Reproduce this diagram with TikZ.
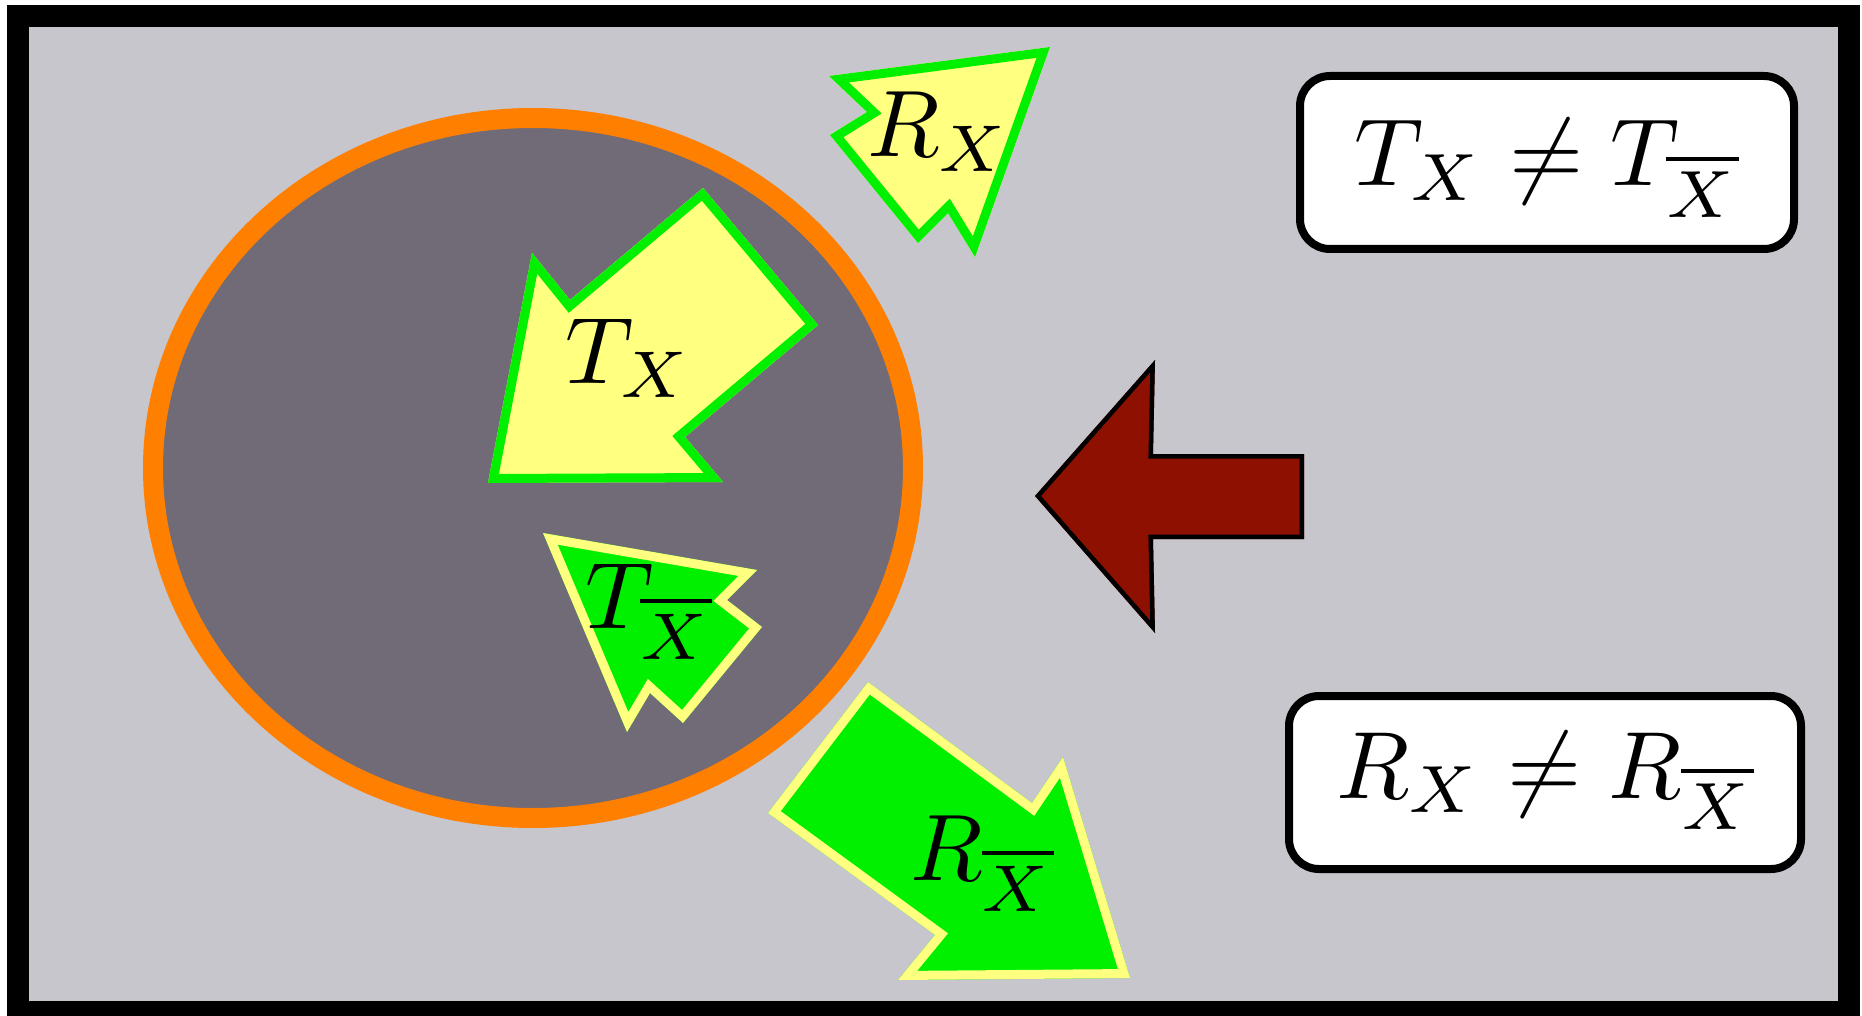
\documentclass[tikz,border=0pt]{standalone}
\usepackage{graphicx}
\usetikzlibrary{shapes.geometric}
\definecolor{bgnoise}{RGB}{200,198,205}
\definecolor{innernoise}{RGB}{112,107,119}
\definecolor{ringorange}{RGB}{255,127,0}
\definecolor{paleyellow}{RGB}{255,255,128}
\definecolor{brightgreen}{RGB}{0,240,0}
\definecolor{darkred}{RGB}{142,16,0}
\newcommand\bigtxt[1]{\scalebox{9.45}{#1}}
\newcommand\boxtxt[1]{\scalebox{9.55}{#1}}
\tikzset{
  arrowlabel/.style={inner sep=0pt, anchor=base west},
  eqbox/.style={draw=black, line width=8pt, fill=white, rounded corners=30pt,
    inner sep=0pt, align=center},
}
% fill a polygon and stroke its border inside the outline only
\newcommand\insetpoly[4]{%
  \fill[#1] #4;
  \begin{scope}\clip #4; \draw[#2, line width=#3, line join=miter] #4; \end{scope}}
\begin{document}
\begin{tikzpicture}[x=1pt,y=-1pt]
\useasboundingbox (0,0) rectangle (1862,1016);
% background and frame
\fill[bgnoise] (29,27) rectangle (1838,1001);
\draw[black, line width=22pt] (18,16.5) rectangle (1849,1012);
% ring
\node[ellipse, draw=ringorange, line width=20pt, fill=innernoise,
  minimum width=760pt, minimum height=700pt, inner sep=0pt] (ring) at (533,468) {};
% arrows
\insetpoly{paleyellow}{brightgreen}{18pt}{(1050,47) -- (829,76) -- (867,112) -- (830,135) -- (918,243) -- (948,213) -- (975,257) -- cycle}
\insetpoly{paleyellow}{brightgreen}{18pt}{(703,188) -- (818,325) -- (685,437) -- (723,482) -- (488,483) -- (532,253) -- (570,300) -- cycle}
\insetpoly{brightgreen}{paleyellow}{18pt}{(543,533) -- (757,570) -- (727,600) -- (762,627) -- (683,723) -- (650,693) -- (627,732) -- cycle}
\insetpoly{brightgreen}{paleyellow}{18pt}{(868,682) -- (1032,803) -- (1063,757) -- (1130,978) -- (898,980) -- (935,935) -- (768,813) -- cycle}
\insetpoly{darkred}{black}{9pt}{(1035,496) -- (1155,360) -- (1153,454) -- (1304,454) -- (1304,539) -- (1153,539) -- (1155,633) -- cycle}
% arrow labels
\node[arrowlabel] (rx) at (867,157) {\bigtxt{$R_X$}};
\node[arrowlabel] (tx) at (565,383) {\bigtxt{$T_X$}};
\node[arrowlabel] (txb) at (585,628) {\bigtxt{$T_{\overline{X}}$}};
\node[arrowlabel] (rxb) at (910,880) {\bigtxt{$R_{\overline{X}}$}};
% equation boxes
\node[eqbox, minimum width=494pt, minimum height=173pt, text height=60pt, text depth=13pt]
  (boxT) at (1547,162.5) {\boxtxt{$T_X \neq T_{\overline{X}}$}};
\node[eqbox, minimum width=512pt, minimum height=173pt, text height=50pt, text depth=19pt]
  (boxR) at (1545,782.5) {\boxtxt{$R_X \neq R_{\overline{X}}$}};
\end{tikzpicture}
\end{document}
